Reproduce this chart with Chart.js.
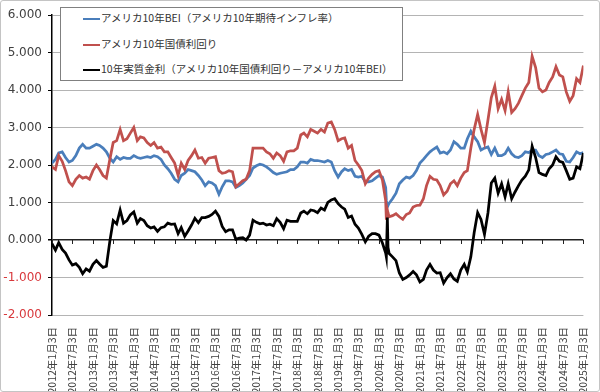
<!DOCTYPE html>
<html>
<head>
<meta charset="utf-8">
<script src="https://cdn.jsdelivr.net/npm/chart.js@4.4.1/dist/chart.umd.min.js"></script>
<title>米国10年実質金利</title>
<style>
  body { margin: 0; background: #fff; }
  #wrap { position: relative; width: 600px; height: 392px; }
  #frame { position: absolute; left: 0; top: 0; width: 600px; height: 392px; box-sizing: border-box;
           border: 1px solid #c4c4c4; border-radius: 3px; pointer-events: none; }
  #legend { position: absolute; left: 60px; top: 7px; width: 343px; height: 74px; box-sizing: border-box;
            border: 1px solid #808080; background: #fff;
            font-family: "Noto Sans CJK JP", sans-serif; font-size: 10.5px; color: #333; }
  .row { position: absolute; left: 22px; height: 14px; line-height: 14px; white-space: nowrap; }
  .row i { display: inline-block; width: 17px; height: 2px; vertical-align: middle; margin-right: 1px; }
</style>
</head>
<body>
<div id="wrap">
  <canvas id="chart" width="600" height="392"></canvas>
  <div id="legend"></div>
  <div id="frame"></div>
</div>
<script>
// monthly readings (3rd of each month), extra points in March 2020
const dates = [
  '2012-01-03','2012-02-03','2012-03-03','2012-04-03','2012-05-03','2012-06-03','2012-07-03','2012-08-03','2012-09-03','2012-10-03','2012-11-03','2012-12-03',
  '2013-01-03','2013-02-03','2013-03-03','2013-04-03','2013-05-03','2013-06-03','2013-07-03','2013-08-03','2013-09-03','2013-10-03','2013-11-03','2013-12-03',
  '2014-01-03','2014-02-03','2014-03-03','2014-04-03','2014-05-03','2014-06-03','2014-07-03','2014-08-03','2014-09-03','2014-10-03','2014-11-03','2014-12-03',
  '2015-01-03','2015-02-03','2015-03-03','2015-04-03','2015-05-03','2015-06-03','2015-07-03','2015-08-03','2015-09-03','2015-10-03','2015-11-03','2015-12-03',
  '2016-01-03','2016-02-03','2016-03-03','2016-04-03','2016-05-03','2016-06-03','2016-07-03','2016-08-03','2016-09-03','2016-10-03','2016-11-03','2016-12-03',
  '2017-01-03','2017-02-03','2017-03-03','2017-04-03','2017-05-03','2017-06-03','2017-07-03','2017-08-03','2017-09-03','2017-10-03','2017-11-03','2017-12-03',
  '2018-01-03','2018-02-03','2018-03-03','2018-04-03','2018-05-03','2018-06-03','2018-07-03','2018-08-03','2018-09-03','2018-10-03','2018-11-03','2018-12-03',
  '2019-01-03','2019-02-03','2019-03-03','2019-04-03','2019-05-03','2019-06-03','2019-07-03','2019-08-03','2019-09-03','2019-10-03','2019-11-03','2019-12-03',
  '2020-01-03','2020-02-03','2020-03-03','2020-03-09','2020-03-18','2020-03-24','2020-04-03','2020-05-03','2020-06-03','2020-07-03','2020-08-03','2020-09-03','2020-10-03','2020-11-03','2020-12-03',
  '2021-01-03','2021-02-03','2021-03-03','2021-04-03','2021-05-03','2021-06-03','2021-07-03','2021-08-03','2021-09-03','2021-10-03','2021-11-03','2021-12-03',
  '2022-01-03','2022-02-03','2022-03-03','2022-04-03','2022-05-03','2022-06-03','2022-07-03','2022-08-03','2022-09-03','2022-10-03','2022-11-03','2022-12-03',
  '2023-01-03','2023-02-03','2023-03-03','2023-04-03','2023-05-03','2023-06-03','2023-07-03','2023-08-03','2023-09-03','2023-10-03','2023-11-03','2023-12-03',
  '2024-01-03','2024-02-03','2024-03-03','2024-04-03','2024-05-03','2024-06-03','2024-07-03','2024-08-03','2024-09-03','2024-10-03','2024-11-03','2024-12-03',
  '2025-01-03'
];

// アメリカ10年BEI
const bei = [
  2.05, 2.15, 2.32, 2.35, 2.20, 2.08, 2.12, 2.25, 2.45, 2.55, 2.45, 2.45,
  2.50, 2.55, 2.52, 2.45, 2.35, 2.18, 2.08, 2.22, 2.15, 2.20, 2.18, 2.18,
  2.25, 2.20, 2.18, 2.20, 2.22, 2.20, 2.25, 2.22, 2.15, 2.00, 1.90, 1.78,
  1.62, 1.55, 1.72, 1.78, 1.88, 1.85, 1.82, 1.72, 1.60, 1.45, 1.55, 1.52,
  1.45, 1.22, 1.42, 1.58, 1.58, 1.55, 1.40, 1.45, 1.52, 1.62, 1.72, 1.92,
  1.98, 2.02, 2.00, 1.95, 1.88, 1.80, 1.75, 1.78, 1.80, 1.82, 1.88, 1.88,
  1.95, 2.08, 2.08, 2.05, 2.15, 2.12, 2.12, 2.10, 2.08, 2.12, 2.08, 1.85,
  1.68, 1.82, 1.90, 1.85, 1.88, 1.70, 1.68, 1.70, 1.55, 1.55, 1.58, 1.65,
  1.72, 1.68, 1.40, 1.05, 0.88, 0.92, 0.98, 1.10, 1.25, 1.50, 1.60, 1.68, 1.65, 1.72, 1.85,
  2.05, 2.15, 2.25, 2.35, 2.42, 2.48, 2.32, 2.35, 2.30, 2.40, 2.62, 2.55,
  2.45, 2.45, 2.70, 2.90, 2.75, 2.62, 2.40, 2.45, 2.48, 2.28, 2.45, 2.25,
  2.25, 2.30, 2.45, 2.30, 2.22, 2.20, 2.25, 2.35, 2.33, 2.40, 2.40, 2.25,
  2.20, 2.28, 2.30, 2.35, 2.40, 2.30, 2.28, 2.10, 2.08, 2.20, 2.35, 2.30,
  2.33
];

// アメリカ10年国債利回り
const yield10 = [
  1.95, 1.88, 2.25, 2.10, 1.85, 1.55, 1.45, 1.62, 1.72, 1.65, 1.68, 1.62,
  1.85, 2.00, 1.88, 1.72, 1.65, 2.15, 2.60, 2.65, 2.95, 2.65, 2.70, 2.85,
  3.00, 2.65, 2.75, 2.72, 2.60, 2.52, 2.60, 2.45, 2.48, 2.35, 2.35, 2.20,
  2.05, 1.72, 2.05, 1.88, 2.12, 2.25, 2.40, 2.18, 2.20, 2.05, 2.18, 2.20,
  2.22, 1.85, 1.78, 1.80, 1.85, 1.82, 1.42, 1.50, 1.58, 1.62, 1.85, 2.45,
  2.45, 2.45, 2.45, 2.35, 2.30, 2.18, 2.32, 2.25, 2.10, 2.35, 2.38, 2.38,
  2.45, 2.80, 2.85, 2.75, 2.95, 2.90, 2.85, 2.95, 2.88, 3.12, 3.15, 2.95,
  2.65, 2.70, 2.72, 2.45, 2.52, 2.12, 2.00, 1.85, 1.50, 1.65, 1.75, 1.82,
  1.85, 1.60, 1.05, 0.54, 0.80, 0.72, 0.62, 0.65, 0.70, 0.62, 0.55, 0.68, 0.72, 0.88, 0.92,
  0.93, 1.10, 1.45, 1.70, 1.62, 1.60, 1.45, 1.20, 1.30, 1.50, 1.58, 1.45,
  1.65, 1.80, 1.85, 2.45, 2.95, 3.35, 2.95, 2.60, 3.20, 3.80, 4.10, 3.50,
  3.75, 3.45, 3.95, 3.40, 3.50, 3.65, 3.85, 4.05, 4.20, 4.90, 4.60, 4.05,
  3.95, 4.00, 4.20, 4.35, 4.62, 4.40, 4.35, 3.95, 3.70, 3.85, 4.30, 4.20,
  4.65
];

// 10年実質金利
const real10 = [
  -0.10, -0.27, -0.07, -0.25, -0.35, -0.53, -0.67, -0.63, -0.73, -0.90, -0.77, -0.83,
  -0.65, -0.55, -0.64, -0.73, -0.70, -0.03, 0.52, 0.43, 0.80, 0.45, 0.52, 0.67,
  0.75, 0.45, 0.57, 0.52, 0.38, 0.32, 0.35, 0.23, 0.33, 0.35, 0.45, 0.42,
  0.43, 0.17, 0.33, 0.10, 0.24, 0.40, 0.58, 0.46, 0.60, 0.60, 0.63, 0.68,
  0.77, 0.63, 0.36, 0.22, 0.27, 0.27, 0.02, 0.05, 0.06, 0.00, 0.13, 0.53,
  0.47, 0.43, 0.45, 0.40, 0.42, 0.38, 0.57, 0.47, 0.30, 0.53, 0.50, 0.50,
  0.50, 0.72, 0.77, 0.70, 0.80, 0.78, 0.73, 0.85, 0.80, 1.00, 1.07, 1.10,
  0.97, 0.88, 0.82, 0.60, 0.64, 0.42, 0.32, 0.15, -0.05, 0.10, 0.17, 0.17,
  0.13, -0.08, -0.35, -0.45, 0.60, -0.20, -0.36, -0.45, -0.55, -0.88, -1.05, -1.00, -0.93, -0.84, -0.93,
  -1.12, -1.05, -0.80, -0.65, -0.80, -0.88, -0.87, -1.15, -1.00, -0.90, -1.04, -1.10,
  -0.80, -0.65, -0.85, -0.45, 0.20, 0.73, 0.55, 0.15, 0.72, 1.52, 1.65, 1.25,
  1.50, 1.15, 1.50, 1.10, 1.28, 1.45, 1.60, 1.70, 1.87, 2.50, 2.20, 1.80,
  1.75, 1.72, 1.90, 2.00, 2.22, 2.10, 2.07, 1.85, 1.62, 1.65, 1.95, 1.90,
  2.32
];

const tickLabels = [
  '2012年1月3日','2012年7月3日','2013年1月3日','2013年7月3日','2014年1月3日','2014年7月3日',
  '2015年1月3日','2015年7月3日','2016年1月3日','2016年7月3日','2017年1月3日','2017年7月3日',
  '2018年1月3日','2018年7月3日','2019年1月3日','2019年7月3日','2020年1月3日','2020年7月3日',
  '2021年1月3日','2021年7月3日','2022年1月3日','2022年7月3日','2023年1月3日','2023年7月3日',
  '2024年1月3日','2024年7月3日','2025年1月3日'
];

const seriesNames = [
  'アメリカ10年BEI（アメリカ10年期待インフレ率）',
  'アメリカ10年国債利回り',
  '10年実質金利（アメリカ10年国債利回り－アメリカ10年BEI）'
];
const seriesColors = ['#4a7ebb', '#c0504d', '#000000'];

// days since 2012-01-03
const base = Date.UTC(2012, 0, 3);
function dayOf(y, m, d) { return (Date.UTC(y, m - 1, d) - base) / 86400000; }
const xs = dates.map(s => { const p = s.split('-').map(Number); return dayOf(p[0], p[1], p[2]); });
const tickDays = tickLabels.map(s => { const p = s.match(/\d+/g).map(Number); return dayOf(p[0], p[1], p[2]); });

function pts(vals) { return vals.map((v, i) => ({ x: xs[i], y: v })); }

// legend as html
const lg = document.getElementById('legend');
seriesNames.forEach((name, i) => {
  const r = document.createElement('div');
  r.className = 'row';
  r.style.top = (3 + i * 25.5) + 'px';
  r.innerHTML = '<i style="background:' + seriesColors[i] + '"></i>' + name;
  lg.appendChild(r);
});

// small tick marks hanging under the zero line
const zeroTicks = {
  id: 'zeroTicks',
  beforeDatasetsDraw(chart) {
    const x = chart.scales.x, y = chart.scales.y;
    const y0 = y.getPixelForValue(0);
    const c = chart.ctx;
    c.save();
    c.strokeStyle = '#222';
    c.lineWidth = 1;
    tickDays.forEach(d => {
      const px = Math.round(x.getPixelForValue(d)) + 0.5;
      c.beginPath();
      c.moveTo(px, y0);
      c.lineTo(px, y0 + 4);
      c.stroke();
    });
    c.restore();
  }
};

new Chart(document.getElementById('chart'), {
  type: 'line',
  data: {
    datasets: [
      { label: seriesNames[0], data: pts(bei), borderColor: seriesColors[0], borderWidth: 2.75, order: 3 },
      { label: seriesNames[1], data: pts(yield10), borderColor: seriesColors[1], borderWidth: 2.75, order: 2 },
      { label: seriesNames[2], data: pts(real10), borderColor: seriesColors[2], borderWidth: 2.75, order: 1 }
    ]
  },
  options: {
    responsive: false,
    animation: false,
    layout: { padding: { top: 15, right: 13, left: 0, bottom: 0 } },
    elements: { point: { radius: 0 }, line: { tension: 0 } },
    plugins: { legend: { display: false }, tooltip: { enabled: false } },
    scales: {
      x: {
        type: 'linear',
        min: tickDays[0],
        max: tickDays[tickDays.length - 1],
        afterBuildTicks: s => { s.ticks = tickDays.map(v => ({ value: v })); },
        afterFit: s => { s.height = 77; },
        grid: { display: false },
        border: { display: false },
        ticks: {
          autoSkip: false,
          minRotation: 90,
          maxRotation: 90,
          padding: 4,
          color: '#404040',
          font: { family: '"Noto Sans CJK JP", sans-serif', size: 10.5 },
          callback: (v, i) => tickLabels[i]
        }
      },
      y: {
        min: -2,
        max: 6,
        afterFit: s => { s.width = 52; },
        border: { color: '#000', width: 1.5 },
        grid: {
          color: c => c.tick && c.tick.value === 0 ? '#222' : '#b4b4b4',
          lineWidth: c => c.tick && c.tick.value === 0 ? 1.5 : 1,
          tickColor: '#000',
          tickLength: 4
        },
        ticks: {
          stepSize: 1,
          padding: 6,
          color: c => c.tick.value < 0 ? '#d8383c' : '#404040',
          font: { family: '"DejaVu Sans", sans-serif', size: 12 },
          callback: v => v.toFixed(3)
        }
      }
    }
  },
  plugins: [zeroTicks]
});
</script>
</body>
</html>
